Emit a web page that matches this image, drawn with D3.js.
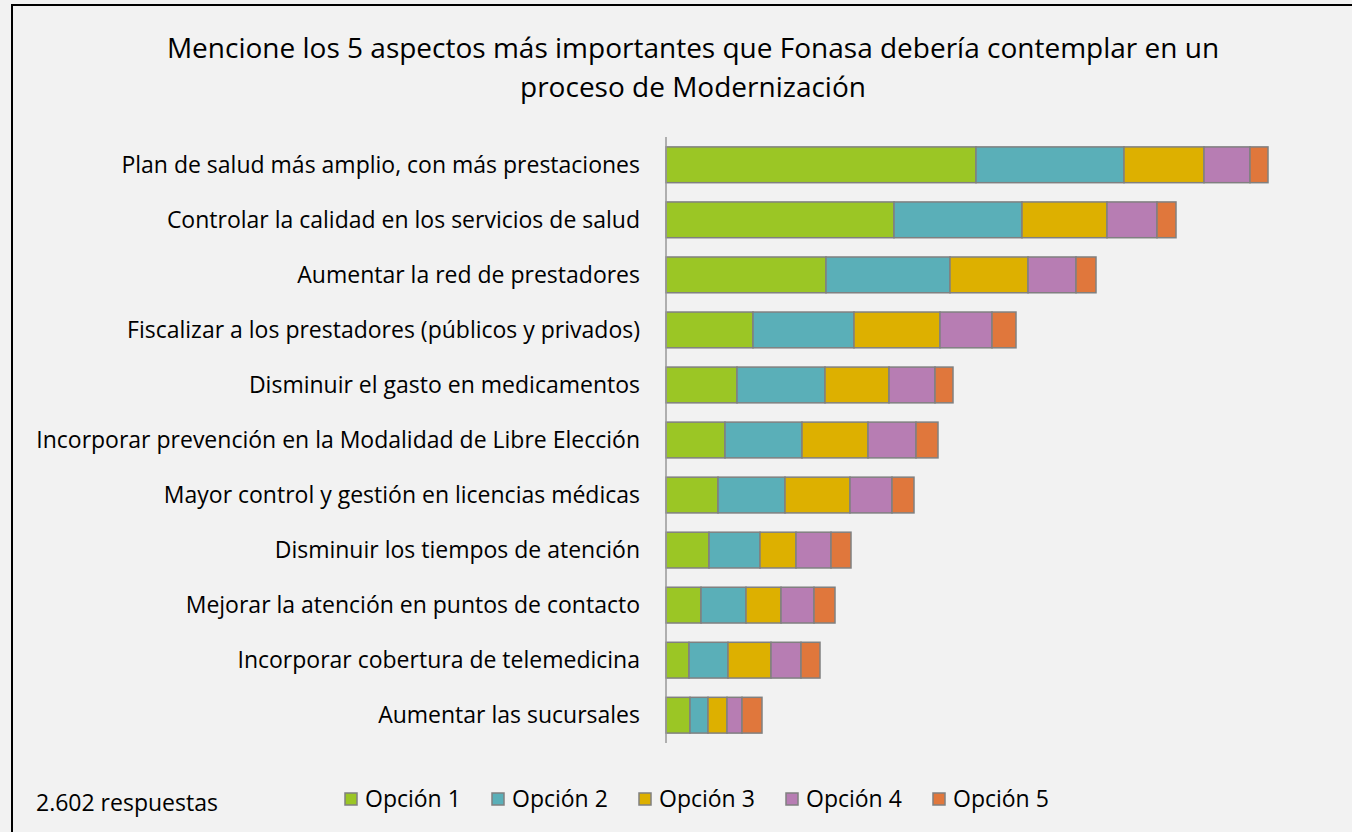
<!DOCTYPE html>
<html lang="es">
<head>
<meta charset="utf-8">
<title>Aspectos Fonasa</title>
<script src="https://d3js.org/d3.v7.min.js"></script>
<style>
  body { margin: 0; background: #fff; }
  svg text { font-family: "Open Sans", "Noto Sans", sans-serif; fill: #000; }
</style>
</head>
<body>
<svg></svg>
<script>

// data (relative counts)
var categories = [
  "Plan de salud más amplio, con más prestaciones",
  "Controlar la calidad en los servicios de salud",
  "Aumentar la red de prestadores",
  "Fiscalizar a los prestadores (públicos y privados)",
  "Disminuir el gasto en medicamentos",
  "Incorporar prevención en la Modalidad de Libre Elección",
  "Mayor control y gestión en licencias médicas",
  "Disminuir los tiempos de atención",
  "Mejorar la atención en puntos de contacto",
  "Incorporar cobertura de telemedicina",
  "Aumentar las sucursales"
];
var series = ["Opción 1", "Opción 2", "Opción 3", "Opción 4", "Opción 5"];
var opcion1 = [310, 228, 160, 87, 71, 59, 52, 43, 35, 23, 24];
var opcion2 = [148, 128, 124, 101, 88, 77, 67, 51, 45, 39, 18];
var opcion3 = [80, 85, 78, 86, 64, 66, 65, 36, 35, 43, 19];
var opcion4 = [46, 50, 48, 52, 46, 48, 42, 35, 33, 30, 15];
var opcion5 = [18, 19, 20, 24, 18, 22, 22, 20, 21, 19, 20];
var colors = ["#9bc625", "#5aafb8", "#ddb000", "#b77db3", "#e0773c"];

var w = 1352, h = 832;
var svg = d3.select("svg").attr("width", w).attr("height", h);

svg.append("rect")
    .attr("x", 0).attr("y", 0)
    .attr("width", w).attr("height", h)
    .attr("fill", "#f2f2f2");

// chart frame (only left and top show in the crop)
svg.append("path")
    .attr("d", "M12," + h + "V5H" + w)
    .attr("fill", "none")
    .attr("stroke", "#000")
    .attr("stroke-width", 2);

// title
var title = svg.append("text")
    .attr("text-anchor", "middle")
    .attr("font-size", 28);
title.append("tspan").attr("x", 693).attr("y", 58)
    .text("Mencione los 5 aspectos más importantes que Fonasa debería contemplar en un");
title.append("tspan").attr("x", 693).attr("y", 97)
    .text("proceso de Modernización");

var table = categories.map(function(c, i) {
  return {cat: c, "Opción 1": opcion1[i], "Opción 2": opcion2[i], "Opción 3": opcion3[i],
          "Opción 4": opcion4[i], "Opción 5": opcion5[i]};
});
var stacked = d3.stack().keys(series)(table);

var x = d3.scaleLinear().domain([0, 650]).range([666, 1316]);
var y = d3.scaleBand().domain(categories).range([137, 743]).paddingInner(0.35).paddingOuter(0.18);
var color = d3.scaleOrdinal().domain(series).range(colors);

svg.append("g")
  .selectAll("g")
  .data(stacked)
  .join("g")
    .attr("fill", d => color(d.key))
  .selectAll("rect")
  .data(d => d)
  .join("rect")
    .attr("x", d => x(d[0]))
    .attr("y", d => y(d.data.cat))
    .attr("width", d => x(d[1]) - x(d[0]))
    .attr("height", y.bandwidth())
    .attr("stroke", "#808080")
    .attr("stroke-width", 1.5);

// category labels
svg.append("g")
  .selectAll("text")
  .data(categories)
  .join("text")
    .attr("x", 640)
    .attr("y", d => y(d) + y.bandwidth() / 2)
    .attr("dy", "0.35em")
    .attr("text-anchor", "end")
    .attr("font-size", 23)
    .text(d => d);

// vertical axis line
svg.append("line")
    .attr("x1", 666).attr("x2", 666)
    .attr("y1", 137).attr("y2", 743)
    .attr("stroke", "#999")
    .attr("stroke-width", 1.5);

// legend
var lx = d3.scalePoint().domain(series).range([345, 933]);
var legend = svg.append("g")
  .selectAll("g")
  .data(series)
  .join("g")
    .attr("transform", d => "translate(" + lx(d) + ",793)");
legend.append("rect")
    .attr("width", 12).attr("height", 12)
    .attr("fill", d => color(d))
    .attr("stroke", "#808080")
    .attr("stroke-width", 1.5);
legend.append("text")
    .attr("x", 20).attr("y", 6)
    .attr("dy", "0.35em")
    .attr("font-size", 23)
    .text(d => d);

svg.append("text")
    .attr("x", 36).attr("y", 811)
    .attr("font-size", 23)
    .text("2.602 respuestas");

</script>
</body>
</html>
